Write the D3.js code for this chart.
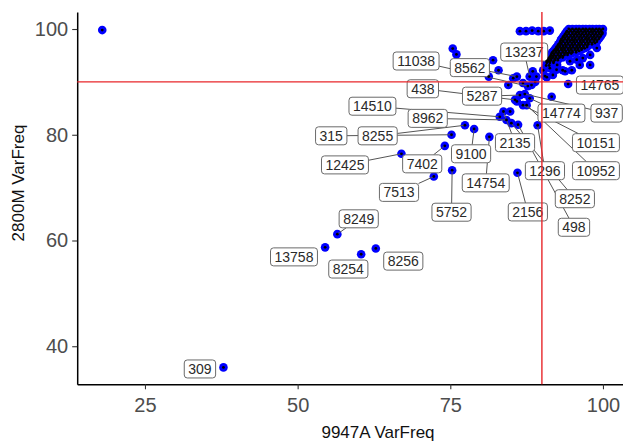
<!DOCTYPE html>
<html><head><meta charset="utf-8">
<script src="https://cdn.jsdelivr.net/npm/d3@7"></script>
<style>
body{margin:0;background:#fff}
svg{display:block}
text{font-family:"Liberation Sans",Arial,Helvetica,sans-serif}
</style>
</head><body>
<svg id="chart" width="623" height="442"></svg>
<script>
// ---- data ----
const xTicks = [25, 50, 75, 100];
const yTicks = [40, 60, 80, 100];
const cutoff = 90;
const xTitle = "9947A VarFreq";
const yTitle = "2800M VarFreq";

// scattered variants (9947A VarFreq, 2800M VarFreq)
const scatterX = [18.0, 37.85, 54.5, 56.5, 60.4, 62.8, 72.3, 67.0, 74.1, 75.3, 81.4, 86.0, 75.2, 77.4, 78.9, 89.3, 75.4, 76.0,
  86.4, 87.2, 88.0, 86.9, 85.9, 87.5, 85.6, 83.7, 84.8, 83.1, 84.2, 85.0, 86.1, 91.6, 94.3,
  88.5, 89.1, 88.0, 88.9, 88.3, 85.9, 84.5, 82.9, 82.0, 87.7, 85.3, 86.9, 81.3,
  86.4, 87.4, 88.4, 89.4, 90.3, 91.3,
  95.7, 94.9, 93.0, 92.5, 96.2, 97.9, 96.7, 94.9, 93.4, 91.8, 90.8, 90.2, 91.3, 92.5, 94.6, 95.7, 97.9, 99.0, 93.2, 94.3, 90.8, 91.3, 92.4, 93.8, 90.5, 91.6];
const scatterY = [99.8, 36.0, 58.7, 61.2, 57.4, 58.5, 72.1, 76.4, 77.9, 73.3, 79.6, 72.8, 80.0, 81.8, 81.1, 81.8, 96.3, 95.2,
  87.5, 87.7, 86.9, 85.6, 86.3, 85.6, 86.6, 84.4, 84.4, 83.4, 82.8, 82.2, 81.9, 87.2, 89.6,
  92.0, 91.0, 91.0, 90.0, 89.4, 91.0, 89.4, 92.2, 94.1, 89.2, 90.7, 89.8, 91.0,
  99.6, 99.6, 99.7, 99.6, 99.6, 99.7,
  99.4, 97.9, 96.6, 96.0, 93.2, 93.2, 94.5, 92.2, 92.2, 91.3, 90.9, 92.2, 93.8, 93.2, 93.9, 94.2, 95.1, 96.4, 96.1, 95.5, 93.9, 92.6, 92.3, 92.0, 91.1, 94.5];

// dense cluster of shared high-frequency variants, one row per 2800M level
const clusterRowY = [100, 99.85, 99.6, 99.35, 99.1, 98.85, 98.6, 98.35, 98.1, 97.85, 97.6, 97.35, 97.1, 96.85,
  96.6, 96.35, 96.1, 95.85, 95.6, 95.35, 95.1, 94.85, 94.6, 94.35, 94.1, 93.85, 93.6, 93.1];
const clusterRowX = [
  [94.4, 95.0, 95.6, 96.1, 96.7, 97.2, 97.8, 98.3, 98.9, 99.4, 100],
  [94.7, 95.3, 95.9, 96.4, 97.0, 97.5, 98.1, 98.6, 99.2, 99.7],
  [94.1, 94.7, 95.3, 95.9, 96.4, 97.0, 97.5, 98.1, 98.6, 99.2, 99.7],
  [94.0, 94.4, 95.0, 95.6, 96.1, 96.7, 97.2, 97.8, 98.3, 98.9, 99.4, 99.9],
  [93.8, 94.4, 95.0, 95.5, 96.1, 96.6, 97.2, 97.7, 98.3, 98.8, 99.4, 99.9],
  [93.7, 94.1, 94.7, 95.3, 95.8, 96.4, 96.9, 97.5, 98.0, 98.6, 99.1, 99.7],
  [93.5, 94.1, 94.7, 95.2, 95.8, 96.3, 96.9, 97.4, 98.0, 98.5, 99.1, 99.6],
  [93.4, 93.8, 94.4, 95.0, 95.5, 96.1, 96.6, 97.2, 97.7, 98.3, 98.8, 99.4],
  [93.2, 93.8, 94.3, 94.9, 95.4, 96.0, 96.5, 97.1, 97.6, 98.2, 98.7, 99.3],
  [93.1, 93.5, 94.1, 94.6, 95.2, 95.7, 96.3, 96.8, 97.4, 97.9, 98.5, 99.0],
  [93.0, 93.5, 94.1, 94.6, 95.2, 95.7, 96.3, 96.8, 97.4, 97.9, 98.5, 99.0],
  [92.9, 93.2, 93.8, 94.3, 94.9, 95.4, 96.0, 96.5, 97.1, 97.6, 98.2, 98.7],
  [92.7, 93.2, 93.8, 94.3, 94.9, 95.4, 96.0, 96.5, 97.1, 97.6, 98.2],
  [92.6, 92.9, 93.5, 94.0, 94.6, 95.1, 95.7, 96.2, 96.8, 97.4],
  [92.4, 92.9, 93.5, 94.0, 94.6, 95.1, 95.7, 96.2, 96.8, 97.4],
  [92.3, 92.6, 93.2, 93.7, 94.3, 94.8, 95.4, 95.9, 96.5, 97.0],
  [92.1, 92.6, 93.2, 93.7, 94.3, 94.8, 95.4, 95.9, 96.5],
  [91.9, 92.3, 92.8, 93.4, 93.9, 94.5, 95.0, 95.6, 96.1],
  [91.7, 92.3, 92.8, 93.4, 93.9, 94.5, 95.0, 95.6],
  [91.6, 92.0, 92.6, 93.1, 93.7, 94.2, 94.8],
  [91.5, 92.0, 92.6, 93.1, 93.7, 94.2],
  [91.4, 91.8, 92.3, 92.9, 93.4],
  [91.2, 91.8, 92.3, 92.9, 93.4],
  [91.1, 91.5, 92.1, 92.6],
  [91.0, 91.5, 92.1, 92.6],
  [90.9, 91.3, 91.9],
  [90.8, 91.3, 91.9],
  [90.7, 91.2]
];

// labelled variants: id and the variant it points to
const labelIds    = ["309","13758","8249","8254","8256","7513","12425","7402","5752","14754","9100","8255","315","8962","14510","438","11038","8562","5287","13237","14765","14774","937","10151","10952","8252","498","1296","2156","2135"];
const labelPointX = [37.85,54.5,56.5,60.4,62.8,72.3,67.0,74.1,75.3,81.4,78.9,77.4,75.2,84.2,83.1,85.6,87.7,85.9,86.4,88.0,94.3,88.0,87.2,86.9,87.5,85.0,86.1,89.3,86.0,83.7];
const labelPointY = [36.0,58.7,61.2,57.4,58.5,72.1,76.4,77.9,73.3,79.6,81.1,81.8,80.0,82.8,83.4,86.6,89.2,91.0,87.5,91.0,89.6,86.9,87.7,85.6,85.6,82.2,81.9,81.8,72.8,84.4];

// ---- layout (repelled label placement, in data units) ----
const labelPlaceX = [34.0,49.4,60.0,58.3,67.3,66.6,57.75,70.4,75.2,80.8,78.4,63.1,55.5,71.3,62.25,70.5,69.4,78.2,80.2,87.1,99.5,93.2,100.6,98.85,98.85,95.4,95.25,90.5,87.7,85.6];
const labelPlaceY = [35.7,56.9,64.1,54.6,56.1,69.1,74.3,74.5,65.35,70.9,76.4,79.8,79.8,83.1,85.4,88.7,93.95,92.7,87.3,95.65,89.4,84.1,84.1,78.5,73.2,67.9,62.5,73.2,65.4,78.5];

// ---- build point table ----
const pts = [];
scatterX.forEach((v, i) => pts.push({x: v, y: scatterY[i]}));
clusterRowY.forEach((yy, r) => clusterRowX[r].forEach(xx => pts.push({x: xx, y: yy})));

const svg = d3.select("#chart");
const W = 623, H = 442;
svg.append("rect").attr("width", W).attr("height", H).attr("fill", "#fff");

const x = d3.scaleLinear().domain([13.9, 104.1]).range([77.2, 628]);
const y = d3.scaleLinear().domain([32.8, 103.2]).range([384.3, 12.1]);

// axes
const gx = svg.append("g").attr("transform", `translate(0,${y(32.8)})`)
  .call(d3.axisBottom(x).tickValues(xTicks).tickSize(5).tickSizeOuter(0).tickPadding(9));
const gy = svg.append("g").attr("transform", `translate(${x(13.9)},0)`)
  .call(d3.axisLeft(y).tickValues(yTicks).tickSize(5).tickSizeOuter(0).tickPadding(4));
[gx, gy].forEach(g => {
  g.select(".domain").attr("stroke", "#000").attr("stroke-width", 1.5);
  g.selectAll(".tick line").attr("stroke", "#333").attr("stroke-width", 1.1);
  g.selectAll(".tick text").attr("fill", "#4d4d4d").attr("font-size", 20)
    .style("font-family", '"Liberation Sans",Arial,sans-serif');
});

svg.append("text").attr("x", 378).attr("y", 432).attr("text-anchor", "middle")
  .attr("dominant-baseline", "central").attr("font-size", 17).attr("fill", "#111").text(xTitle);
svg.append("text").attr("transform", "translate(18,183) rotate(-90)").attr("text-anchor", "middle")
  .attr("dominant-baseline", "central").attr("font-size", 17).attr("fill", "#111").text(yTitle);

// blue points
svg.append("g").selectAll("circle").data(pts).join("circle")
  .attr("cx", d => x(d.x)).attr("cy", d => y(d.y)).attr("r", 4.3).attr("fill", "#0000ff");

// labels
const labels = labelIds.map((id, i) => ({
  id, px: x(labelPointX[i]), py: y(labelPointY[i]), lx: x(labelPlaceX[i]), ly: y(labelPlaceY[i])
}));
const segG = svg.append("g");
const labG = svg.append("g");
labels.forEach(l => {
  const g = labG.append("g");
  const t = g.append("text").attr("x", l.lx).attr("y", l.ly).attr("text-anchor", "middle")
    .attr("dominant-baseline", "central").attr("font-size", 14).attr("fill", "#2a2a2a").text(l.id);
  const tw = t.node().getComputedTextLength();
  const bw = tw + 8, bh = 18;
  g.insert("rect", "text").attr("x", l.lx - bw / 2).attr("y", l.ly - bh / 2).attr("width", bw).attr("height", bh)
    .attr("rx", 3).attr("fill", "#fff").attr("stroke", "#6a6a6a").attr("stroke-width", 1);
  const dx = l.px - l.lx, dy = l.py - l.ly;
  const sx = dx === 0 ? Infinity : (bw / 2) / Math.abs(dx);
  const sy = dy === 0 ? Infinity : (bh / 2) / Math.abs(dy);
  const s = Math.min(sx, sy, 1);
  const ex = l.lx + dx * s, ey = l.ly + dy * s;
  const len = Math.hypot(l.px - ex, l.py - ey);
  if (len > 9) {
    segG.append("line").attr("x1", ex).attr("y1", ey).attr("x2", l.px).attr("y2", l.py)
      .attr("stroke", "#555").attr("stroke-width", 1);
  }
});

// black centre dots
svg.append("g").selectAll("circle").data(pts).join("circle")
  .attr("cx", d => x(d.x)).attr("cy", d => y(d.y)).attr("r", 1.4).attr("fill", "#000");

// cutoff lines
svg.append("line").attr("x1", x(13.9)).attr("x2", W).attr("y1", y(cutoff)).attr("y2", y(cutoff))
  .attr("stroke", "#e8262a").attr("stroke-width", 1.4);
svg.append("line").attr("x1", x(cutoff)).attr("x2", x(cutoff)).attr("y1", y(103.2)).attr("y2", y(32.8))
  .attr("stroke", "#e8262a").attr("stroke-width", 1.4);
</script>
</body></html>
